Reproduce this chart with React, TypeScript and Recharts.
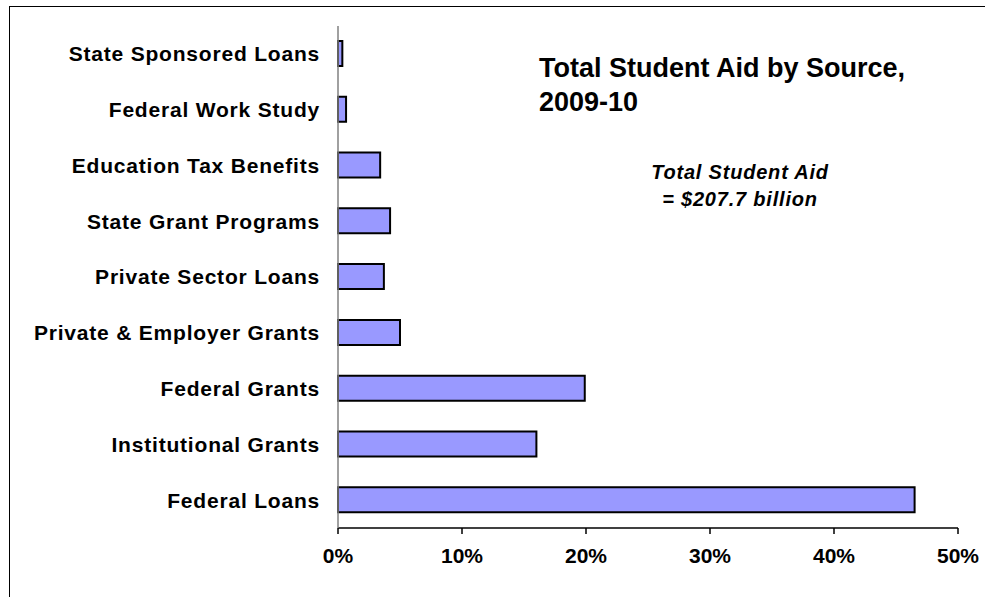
import { Bar, BarChart, XAxis, YAxis } from "recharts";

const sources = [
  "State Sponsored Loans",
  "Federal Work Study",
  "Education Tax Benefits",
  "State Grant Programs",
  "Private Sector Loans",
  "Private & Employer Grants",
  "Federal Grants",
  "Institutional Grants",
  "Federal Loans"
];

// share of total student aid, in percent
const shares = [0.35, 0.65, 3.4, 4.2, 3.7, 5.0, 19.9, 16.0, 46.5];

const percentTicks = [0, 10, 20, 30, 40, 50];

const titleLines = ["Total Student Aid by Source,", "2009-10"];
const noteLines = ["Total Student Aid", "= $207.7 billion"];

const data = sources.map((source, i) => ({ source, share: shares[i] }));

const font = "'Liberation Sans', Arial, sans-serif";

export default function App() {
  return (
    <div
      style={{
        position: "absolute",
        left: 0,
        top: 0,
        width: 985,
        height: 597,
        overflow: "hidden",
        background: "#fff",
        fontFamily: font
      }}
    >
      <div
        style={{
          position: "absolute",
          left: 9,
          top: 6,
          width: 1400,
          height: 900,
          border: "1px solid #000"
        }}
      />
      <BarChart
        width={985}
        height={597}
        layout="vertical"
        data={data}
        margin={{ top: 26, right: 27, left: 0, bottom: 29 }}
        barSize={25}
        style={{ position: "absolute", left: 0, top: 0 }}
      >
        <XAxis
          type="number"
          domain={[0, 50]}
          ticks={percentTicks}
          tickFormatter={(v: number) => `${v}%`}
          height={40}
          axisLine={{ stroke: "#000", strokeWidth: 1.5 }}
          tickLine={{ stroke: "#000", strokeWidth: 1.5 }}
          tickSize={6}
          tickMargin={14}
          tick={{ fill: "#000", fontSize: 21, fontWeight: "bold", fontFamily: font }}
        />
        <YAxis
          type="category"
          dataKey="source"
          width={338}
          axisLine={{ stroke: "#808080", strokeWidth: 1.5 }}
          tickLine={false}
          tickSize={0}
          tickMargin={18}
          interval={0}
          tick={{ fill: "#000", fontSize: 21, fontWeight: "bold", fontFamily: font, letterSpacing: 0.8 }}
        />
        <Bar dataKey="share" fill="#9999FF" stroke="#000" strokeWidth={2} isAnimationActive={false} />
      </BarChart>
      <svg
        width={985}
        height={597}
        style={{ position: "absolute", left: 0, top: 0, pointerEvents: "none" }}
      >
        {titleLines.map((line, i) => (
          <text key={line} x={539} y={77 + i * 34} fontSize={27} fontWeight="bold" fontFamily={font} fill="#000">
            {line}
          </text>
        ))}
        {noteLines.map((line, i) => (
          <text
            key={line}
            x={740}
            y={179 + i * 27}
            textAnchor="middle"
            fontSize={20}
            fontWeight="bold"
            fontStyle="italic"
            fontFamily={font}
            letterSpacing={0.8}
            fill="#000"
          >
            {line}
          </text>
        ))}
      </svg>
    </div>
  );
}
